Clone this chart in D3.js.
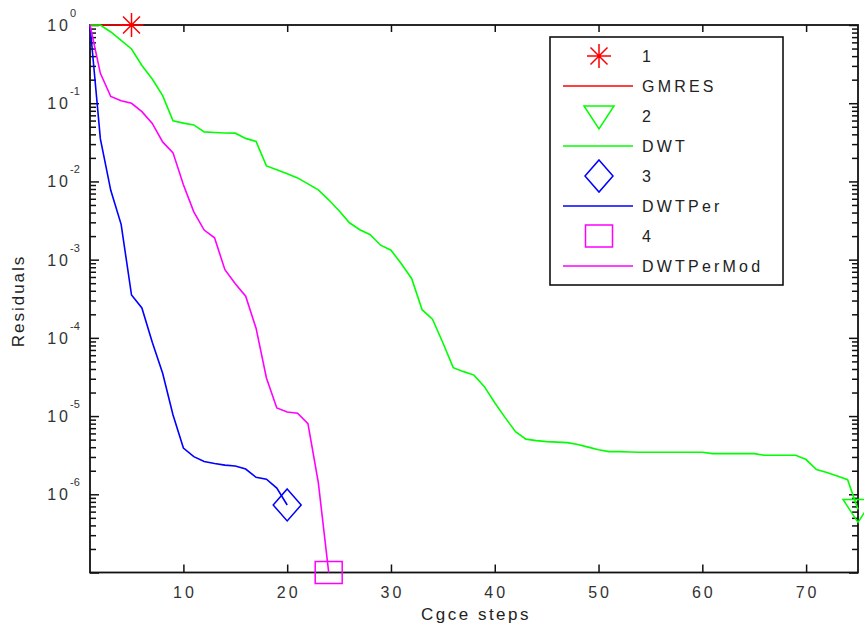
<!DOCTYPE html>
<html>
<head>
<meta charset="utf-8">
<script src="https://cdn.jsdelivr.net/npm/d3@7"></script>
<style>
  body { margin: 0; background: #fff; }
  svg { display: block; font-family: "Liberation Sans", Arial, sans-serif; }
</style>
</head>
<body>
<svg width="864" height="632"></svg>
<script>
// residuals per iteration (iteration number = index + 1)
const gmresRes = [1, 1, 1, 1, 1];
const dwtRes = [
  1, 1, 0.814, 0.634, 0.494, 0.304, 0.204, 0.125, 0.0594, 0.0557,
  0.0528, 0.0430, 0.0423, 0.0417, 0.0414, 0.0355, 0.0325, 0.0158, 0.0141, 0.0125,
  0.0111, 0.00931, 0.00780, 0.00582, 0.00421, 0.00296, 0.00241, 0.00208, 0.00153, 0.00132,
  8.86e-4, 5.70e-4, 2.29e-4, 1.73e-4, 8.67e-5, 4.16e-5, 3.70e-5, 3.34e-5, 2.38e-5, 1.48e-5,
  9.55e-6, 6.33e-6, 5.07e-6, 4.85e-6, 4.71e-6, 4.65e-6, 4.58e-6, 4.32e-6, 4.01e-6, 3.72e-6,
  3.51e-6, 3.51e-6, 3.47e-6, 3.44e-6, 3.44e-6, 3.44e-6, 3.44e-6, 3.44e-6, 3.44e-6, 3.44e-6,
  3.31e-6, 3.31e-6, 3.31e-6, 3.31e-6, 3.31e-6, 3.15e-6, 3.15e-6, 3.15e-6, 3.15e-6, 2.78e-6,
  2.07e-6, 1.90e-6, 1.71e-6, 1.54e-6, 6.4e-7
];
const dwtPerRes = [
  1, 0.0350, 0.00769, 0.00283, 3.53e-4, 2.41e-4, 8.80e-5, 3.53e-5, 1.03e-5, 3.90e-6,
  3.03e-6, 2.62e-6, 2.47e-6, 2.36e-6, 2.30e-6, 2.10e-6, 1.65e-6, 1.56e-6, 1.20e-6, 7.3e-7
];
const dwtPerModRes = [
  1, 0.241, 0.122, 0.1076, 0.0997, 0.0779, 0.0552, 0.0320, 0.0232, 0.00904,
  0.00408, 0.00239, 0.00190, 7.43e-4, 4.92e-4, 3.41e-4, 1.33e-4, 3.07e-5, 1.27e-5, 1.13e-5,
  1.09e-5, 8.01e-6, 1.41e-6, 1e-7
];
const seriesNames = ["GMRES", "DWT", "DWTPer", "DWTPerMod"];
const markerNames = ["1", "2", "3", "4"];
const xTicks = [10, 20, 30, 40, 50, 60, 70];
const yExps = [0, -1, -2, -3, -4, -5, -6];

const svg = d3.select("svg");
const plotL = 90, plotR = 858, plotT = 25, plotB = 572.5;

const x = d3.scaleLinear().domain([1, 75]).range([plotL, plotR]);
const y = d3.scaleLog().domain([1e-7, 1]).range([plotB, plotT]);

const series = [
  { name: seriesNames[0], mark: markerNames[0], data: gmresRes, color: "#ff0000", shape: "star" },
  { name: seriesNames[1], mark: markerNames[1], data: dwtRes, color: "#00ff00", shape: "tri" },
  { name: seriesNames[2], mark: markerNames[2], data: dwtPerRes, color: "#0000ff", shape: "diamond" },
  { name: seriesNames[3], mark: markerNames[3], data: dwtPerModRes, color: "#ff00ff", shape: "square" }
];

// minor log ticks
const minors = [];
for (let e = -7; e < 0; e++) for (let m = 2; m <= 9; m++) minors.push(m * Math.pow(10, e));
const majors = yExps.map(e => Math.pow(10, e)).concat([1e-7]);

function styleAxis(g) {
  g.select(".domain").remove();
  g.selectAll(".tick line").attr("stroke", "#111").attr("stroke-width", 1.5);
}

// x axes (bottom + top), ticks pointing inward
svg.append("g").attr("transform", `translate(0,${plotB})`)
  .call(d3.axisBottom(x).tickValues(xTicks).tickSize(-8).tickSizeOuter(0).tickFormat(""))
  .call(styleAxis);
svg.append("g").attr("transform", `translate(0,${plotT})`)
  .call(d3.axisTop(x).tickValues(xTicks).tickSize(-7).tickSizeOuter(0).tickFormat(""))
  .call(styleAxis);

// y axes (left + right), majors and minors
svg.append("g").attr("transform", `translate(${plotL},0)`)
  .call(d3.axisLeft(y).tickValues(majors).tickSize(-9).tickSizeOuter(0).tickFormat(""))
  .call(styleAxis);
svg.append("g").attr("transform", `translate(${plotL},0)`)
  .call(d3.axisLeft(y).tickValues(minors).tickSize(-6).tickSizeOuter(0).tickFormat(""))
  .call(styleAxis);
svg.append("g").attr("transform", `translate(${plotR},0)`)
  .call(d3.axisRight(y).tickValues(majors).tickSize(-9).tickSizeOuter(0).tickFormat(""))
  .call(styleAxis);
svg.append("g").attr("transform", `translate(${plotR},0)`)
  .call(d3.axisRight(y).tickValues(minors).tickSize(-6).tickSizeOuter(0).tickFormat(""))
  .call(styleAxis);

// axes box
svg.append("rect")
  .attr("x", plotL).attr("y", plotT)
  .attr("width", plotR - plotL).attr("height", plotB - plotT)
  .attr("fill", "none").attr("stroke", "#111").attr("stroke-width", 1.8);

// x tick labels
svg.append("g").selectAll("text").data(xTicks).join("text")
  .attr("x", d => x(d) + 1.5).attr("y", 598)
  .attr("text-anchor", "middle")
  .attr("font-size", 16).attr("letter-spacing", 3).attr("fill", "#333")
  .text(d => d);

// y tick labels 10^e
const yl = svg.append("g").selectAll("g").data(yExps).join("g");
yl.append("text")
  .attr("x", 71).attr("y", d => y(Math.pow(10, d)) + 6)
  .attr("text-anchor", "end")
  .attr("font-size", 16).attr("letter-spacing", 3).attr("fill", "#333")
  .text("10");
yl.append("text")
  .attr("x", 70).attr("y", d => y(Math.pow(10, d)) - 8)
  .attr("font-size", 11).attr("fill", "#333")
  .text(d => d === 0 ? "0" : "-" + Math.abs(d));

// axis titles
svg.append("text")
  .attr("x", 476).attr("y", 620)
  .attr("text-anchor", "middle")
  .attr("font-size", 17).attr("letter-spacing", 2.5).attr("fill", "#222")
  .text("Cgce steps");
svg.append("text")
  .attr("transform", "translate(24,301) rotate(-90)")
  .attr("text-anchor", "middle")
  .attr("font-size", 17).attr("letter-spacing", 2).attr("fill", "#222")
  .text("Residuals");

// marker shapes
function markerPath(shape, cx, cy) {
  if (shape === "star") {
    const r = 12, d = r * Math.SQRT1_2;
    return `M${cx - r},${cy}L${cx + r},${cy}M${cx},${cy - r}L${cx},${cy + r}` +
      `M${cx - d},${cy - d}L${cx + d},${cy + d}M${cx - d},${cy + d}L${cx + d},${cy - d}`;
  }
  if (shape === "tri") return `M${cx - 15},${cy - 10}L${cx + 15},${cy - 10}L${cx},${cy + 13}Z`;
  if (shape === "diamond") return `M${cx},${cy - 16}L${cx + 14},${cy}L${cx},${cy + 16}L${cx - 14},${cy}Z`;
  return `M${cx - 13.5},${cy - 11}h27v22h-27Z`;
}

const line = d3.line().x((d, i) => x(i + 1)).y(d => y(d));

// lines and end markers
const sg = svg.append("g").selectAll("g").data(series).join("g");
sg.append("path")
  .attr("d", d => line(d.data))
  .attr("fill", "none").attr("stroke", d => d.color).attr("stroke-width", 1.6);
sg.append("path")
  .attr("d", d => markerPath(d.shape, x(d.data.length), y(d.data[d.data.length - 1])))
  .attr("fill", "none").attr("stroke", d => d.color).attr("stroke-width", 1.5);

// legend
const lg = svg.append("g");
lg.append("rect")
  .attr("x", 550).attr("y", 37).attr("width", 233).attr("height", 248)
  .attr("fill", "#fff").attr("stroke", "#111").attr("stroke-width", 1.6);
series.forEach((s, k) => {
  const cyM = 56 + k * 60, cyL = cyM + 30;
  lg.append("path").attr("d", markerPath(s.shape, 599, cyM))
    .attr("fill", "none").attr("stroke", s.color).attr("stroke-width", 1.5);
  lg.append("text").attr("x", 642).attr("y", cyM + 6)
    .attr("font-size", 16).attr("letter-spacing", 3).attr("fill", "#222")
    .text(s.mark);
  lg.append("line").attr("x1", 563).attr("x2", 633).attr("y1", cyL).attr("y2", cyL)
    .attr("stroke", s.color).attr("stroke-width", 1.6);
  lg.append("text").attr("x", 642).attr("y", cyL + 6)
    .attr("font-size", 16).attr("letter-spacing", 3.2).attr("fill", "#222")
    .text(s.name);
});
</script>
</body>
</html>
